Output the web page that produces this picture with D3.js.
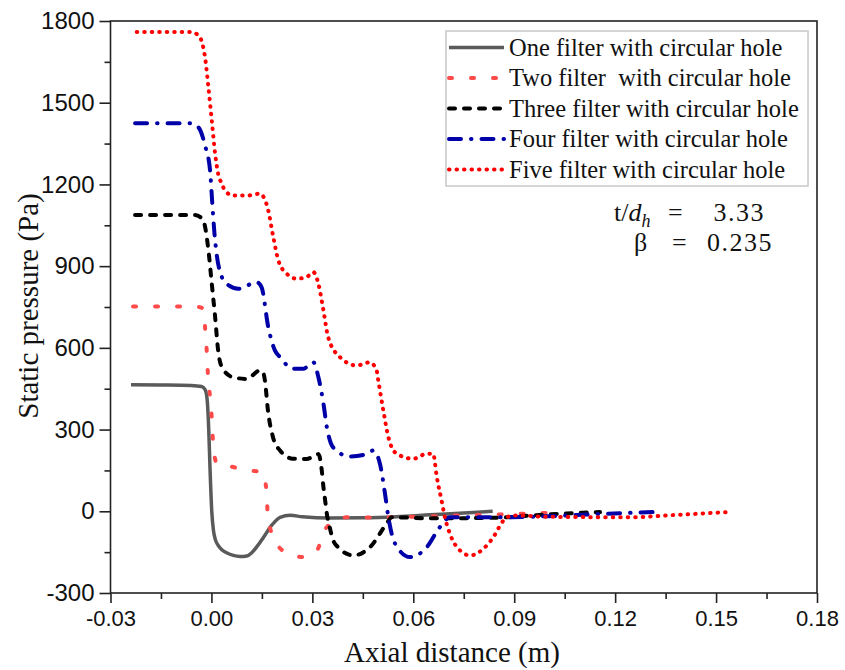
<!DOCTYPE html>
<html>
<head>
<meta charset="utf-8">
<script src="https://cdn.jsdelivr.net/npm/d3@7/dist/d3.min.js"></script>
<style>
  body { margin: 0; background: #fff; }
  svg { display: block; }
</style>
</head>
<body>
<svg id="chart" width="845" height="670"></svg>
<script>
// Static pressure (Pa) along the axial distance (m) for 1–5 perforated filters
const seriesNames = [
  "One filter with circular hole",
  "Two filter  with circular hole",
  "Three filter with circular hole",
  "Four filter with circular hole",
  "Five filter with circular hole"
];

const oneFilter = [
  [-0.0239, 465], [-0.015, 464], [-0.006, 462], [-0.0029, 458], [-0.0018, 445],
  [-0.0012, 400], [-0.0008, 300], [-0.0004, 150], [0.0001, 0], [0.0006, -70],
  [0.0012, -105], [0.002, -125], [0.003, -140], [0.0045, -152], [0.0065, -162],
  [0.0085, -166], [0.0105, -164], [0.012, -152], [0.0135, -130], [0.0155, -95],
  [0.018, -50], [0.0204, -22], [0.0234, -15], [0.027, -20], [0.035, -25],
  [0.045, -24], [0.055, -20], [0.065, -13], [0.075, -6], [0.0836, 0]
];

const twoFilter = [
  [-0.0233, 752], [-0.0049, 752], [-0.0025, 745], [-0.0019, 676], [-0.0014, 590],
  [-0.001, 492], [-0.0004, 419], [0.0002, 322], [0.0005, 249], [0.0016, 175],
  [0.0045, 168], [0.0109, 150], [0.0153, 144], [0.0159, 120], [0.0164, 65],
  [0.0168, -22], [0.0189, -107], [0.022, -150], [0.0272, -168], [0.031, -150],
  [0.0343, -58], [0.0402, -22], [0.0471, -23], [0.06, -20], [0.075, -15],
  [0.09, -10], [0.102, -5]
];

const threeFilter = [
  [-0.0227, 1088], [-0.0049, 1088], [-0.0025, 1070], [-0.001, 970], [0.0001, 836],
  [0.0011, 713], [0.002, 590], [0.0031, 529], [0.0064, 492], [0.0105, 486],
  [0.0144, 517], [0.0155, 505], [0.0159, 480], [0.0168, 370], [0.0183, 272],
  [0.0204, 223], [0.0242, 193], [0.0283, 192], [0.0318, 210], [0.0328, 150],
  [0.0333, 88], [0.0338, 40], [0.0343, -9], [0.035, -50], [0.0362, -107],
  [0.0375, -130], [0.0422, -162], [0.0471, -132], [0.0521, -45], [0.0536, -22],
  [0.0659, -26], [0.0858, -23], [0.0956, -15], [0.1056, -8], [0.1155, -3]
];

const fourFilter = [
  [-0.0227, 1425], [-0.0064, 1425], [-0.0039, 1410], [-0.0019, 1343], [-0.0004, 1251],
  [0.0002, 1141], [0.0009, 1020], [0.0016, 940], [0.0031, 860], [0.0045, 835],
  [0.008, 817], [0.0135, 841], [0.0149, 823], [0.0169, 676], [0.0189, 590],
  [0.0204, 566], [0.0242, 523], [0.0272, 523], [0.0303, 547], [0.0318, 492],
  [0.0333, 395], [0.0343, 309], [0.0355, 250], [0.0372, 223], [0.041, 201],
  [0.0451, 207], [0.0481, 223], [0.0501, 174], [0.0516, 64], [0.0526, -22],
  [0.0546, -119], [0.059, -168], [0.064, -132], [0.0679, -58], [0.0709, -22],
  [0.085, -22], [0.1, -18], [0.115, -10], [0.1313, -3]
];

const fiveFilter = [
  [-0.0222, 1760], [-0.0064, 1760], [-0.0039, 1748], [-0.0019, 1667], [-0.0009, 1557],
  [0.0001, 1435], [0.0011, 1313], [0.002, 1239], [0.0031, 1202], [0.004, 1178],
  [0.0065, 1159], [0.0105, 1159], [0.0144, 1166], [0.0169, 1104], [0.0184, 1006],
  [0.0199, 921], [0.0224, 872], [0.0253, 854], [0.0283, 860], [0.0303, 878],
  [0.0318, 835], [0.0333, 737], [0.0347, 639], [0.0382, 566], [0.0432, 535],
  [0.0471, 547], [0.0491, 517], [0.0496, 480], [0.0511, 370], [0.0526, 272],
  [0.0551, 211], [0.06, 193], [0.064, 211], [0.0659, 211], [0.067, 125],
  [0.0684, 40], [0.0694, -22], [0.0709, -83], [0.0739, -144], [0.0769, -162],
  [0.0808, -138], [0.0838, -95], [0.0868, -34], [0.0897, -15], [0.1, -20],
  [0.1234, -22], [0.14, -12], [0.1532, -3]
];

const xTickValues = [-0.03, 0, 0.03, 0.06, 0.09, 0.12, 0.15, 0.18];
const xTickLabels = ["-0.03", "0.00", "0.03", "0.06", "0.09", "0.12", "0.15", "0.18"];
const xMinorValues = [-0.015, 0.015, 0.045, 0.075, 0.105, 0.135, 0.165];
const yTickValues = [-300, 0, 300, 600, 900, 1200, 1500, 1800];
const yTickLabels = ["-300", "0", "300", "600", "900", "1200", "1500", "1800"];
const yMinorValues = [-150, 150, 450, 750, 1050, 1350, 1650];

// Line styles per series
const styles = [
  { color: "#5a5a5a", width: 3.5, dash: null,            cap: "butt"  },
  { color: "#ff4a4a", width: 4,   dash: "3,19",          cap: "round" },
  { color: "#000000", width: 4,   dash: "6,9",           cap: "round" },
  { color: "#0000a8", width: 4,   dash: "12,10,0.5,10",  cap: "round" },
  { color: "#ff0000", width: 4,   dash: "0.5,7",         cap: "round" }
];
const allSeries = [oneFilter, twoFilter, threeFilter, fourFilter, fiveFilter];

const svg = d3.select("#chart");
const plotLeft = 110.5, plotRight = 817, plotTop = 21, plotBottom = 593;

const x = d3.scaleLinear().domain([-0.03, 0.18]).range([plotLeft, plotRight]);
const y = d3.scaleLinear().domain([-300, 1800]).range([plotBottom, plotTop]);

const tickFont = "'Liberation Sans', Arial, sans-serif";
const serif = "'Liberation Serif', 'Times New Roman', serif";

// Axes: major + minor ticks, outward
const gx = svg.append("g").attr("transform", `translate(0,${plotBottom})`)
  .call(d3.axisBottom(x).tickValues(xTickValues).tickSize(10).tickPadding(7)
    .tickFormat((d, i) => xTickLabels[i]));
svg.append("g").attr("transform", `translate(0,${plotBottom})`)
  .call(d3.axisBottom(x).tickValues(xMinorValues).tickSize(6).tickFormat(""));

const gy = svg.append("g").attr("transform", `translate(${plotLeft},0)`)
  .call(d3.axisLeft(y).tickValues(yTickValues).tickSize(11).tickPadding(5)
    .tickFormat((d, i) => yTickLabels[i]));
svg.append("g").attr("transform", `translate(${plotLeft},0)`)
  .call(d3.axisLeft(y).tickValues(yMinorValues).tickSize(6).tickFormat(""));

svg.selectAll(".domain").remove();
svg.selectAll(".tick line").attr("stroke", "#222").attr("stroke-width", 1.6);
gx.selectAll("text").attr("font-family", tickFont).attr("font-size", 22).attr("fill", "#111");
gy.selectAll("text").attr("font-family", tickFont).attr("font-size", 24).attr("fill", "#111");

// Plot frame
svg.append("rect")
  .attr("x", plotLeft).attr("y", plotTop)
  .attr("width", plotRight - plotLeft).attr("height", plotBottom - plotTop)
  .attr("fill", "none").attr("stroke", "#222").attr("stroke-width", 1.6);

// Curves
const line = d3.line().x(d => x(d[0])).y(d => y(d[1])).curve(d3.curveMonotoneX);
allSeries.forEach((data, i) => {
  const s = styles[i];
  svg.append("path")
    .datum(data)
    .attr("d", line)
    .attr("fill", "none")
    .attr("stroke", s.color)
    .attr("stroke-width", s.width)
    .attr("stroke-linecap", s.cap)
    .attr("stroke-linejoin", "round")
    .attr("stroke-dasharray", s.dash);
});

// Axis titles
svg.append("text")
  .attr("x", 452).attr("y", 662)
  .attr("text-anchor", "middle")
  .attr("font-family", serif).attr("font-size", 29).attr("fill", "#111")
  .text("Axial distance (m)");

svg.append("text")
  .attr("transform", "translate(38,306) rotate(-90)")
  .attr("text-anchor", "middle")
  .attr("font-family", serif).attr("font-size", 29).attr("fill", "#111")
  .text("Static pressure (Pa)");

// Legend
const legend = svg.append("g");
legend.append("rect")
  .attr("x", 446).attr("y", 31).attr("width", 362).attr("height", 155)
  .attr("fill", "#fff").attr("stroke", "#c8c8c8").attr("stroke-width", 1.5);

seriesNames.forEach((name, i) => {
  const s = styles[i];
  const cy = 47.5 + i * 30.5;
  legend.append("line")
    .attr("x1", 449).attr("x2", 504).attr("y1", cy).attr("y2", cy)
    .attr("stroke", s.color)
    .attr("stroke-width", s.width)
    .attr("stroke-linecap", s.cap)
    .attr("stroke-dasharray", s.dash);
  legend.append("text")
    .attr("x", 509).attr("y", cy + 8)
    .attr("font-family", serif).attr("font-size", 24.5).attr("fill", "#111")
    .style("white-space", "pre")
    .text(name);
});

// Geometry annotation
const ann = svg.append("g").attr("font-family", serif).attr("font-size", 26).attr("fill", "#111");
const l1 = ann.append("text").attr("x", 614).attr("y", 221);
l1.append("tspan").text("t/");
l1.append("tspan").attr("font-style", "italic").text("d");
l1.append("tspan").attr("font-style", "italic").attr("font-size", 18).attr("dy", 6).text("h");
ann.append("text").attr("x", 668).attr("y", 221).text("=");
ann.append("text").attr("x", 765).attr("y", 221).attr("text-anchor", "end")
  .attr("letter-spacing", 1.5).text("3.33");
ann.append("text").attr("x", 634).attr("y", 251).text("β");
ann.append("text").attr("x", 672).attr("y", 251).text("=");
ann.append("text").attr("x", 773).attr("y", 251).attr("text-anchor", "end")
  .attr("letter-spacing", 1.5).text("0.235");
</script>
</body>
</html>
